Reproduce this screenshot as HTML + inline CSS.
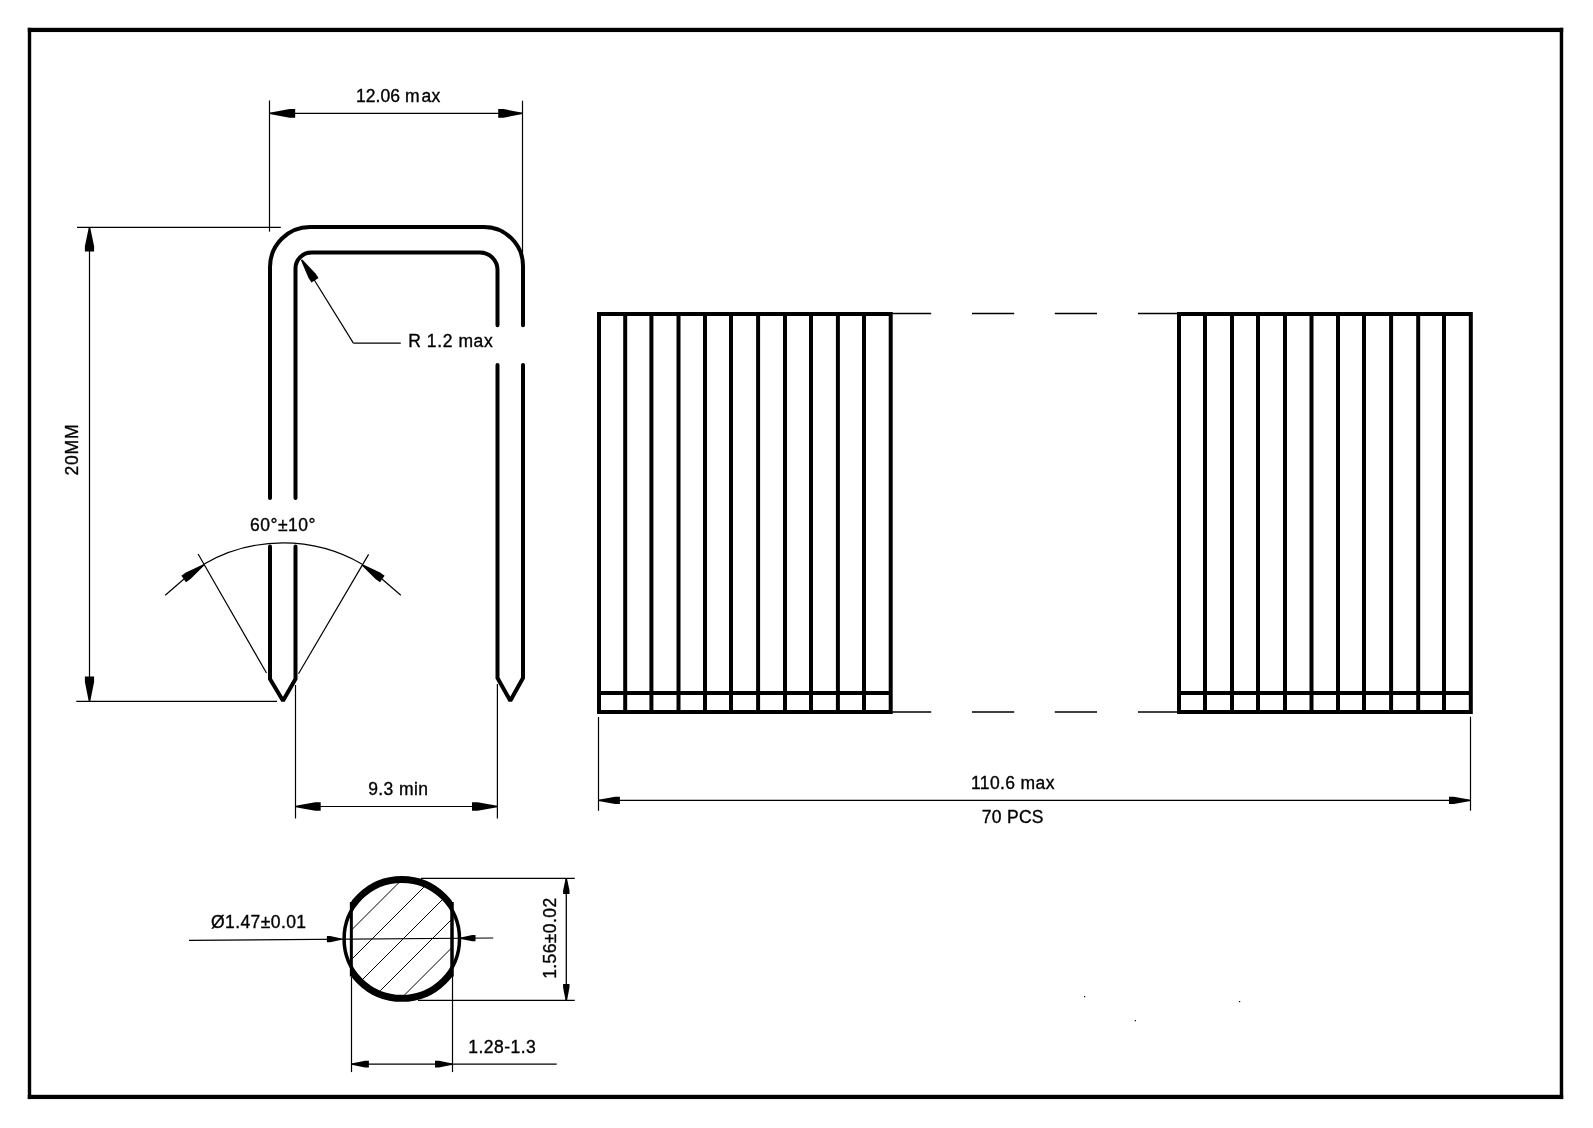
<!DOCTYPE html>
<html><head><meta charset="utf-8"><title>Staple drawing</title>
<style>
html,body{margin:0;padding:0;background:#fff;width:1593px;height:1128px;overflow:hidden;}
svg{display:block;will-change:transform;}
text{font-family:"Liberation Sans",sans-serif;fill:#000;stroke:#000;stroke-width:0.35px;}
</style></head><body>
<svg width="1593" height="1128" viewBox="0 0 1593 1128"><g fill="#000"><rect x="27.8" y="27.8" width="1535.4" height="4.26"/><rect x="27.8" y="1094.8" width="1535.4" height="4.26"/><rect x="27.8" y="27.8" width="3.4" height="1071.26"/><rect x="1559.75" y="27.8" width="3.45" height="1071.26"/></g><g fill="none" stroke="#000" stroke-width="4.0" stroke-linecap="round" stroke-linejoin="round"><path d="M270,498 L270,267 A40,40 0 0 1 310,227 L484,227 A39,39 0 0 1 523,266 L523,325.3"/><path d="M295.5,498 L295.5,269 A16,16 0 0 1 311.5,252.5 L480,252.5 A17.5,17.5 0 0 1 497.5,270 L497.5,325.3"/><path d="M270,546.5 L270,679 L283,700.8 L295.5,679 L295.5,546.5" stroke-linejoin="miter" stroke-miterlimit="1.5"/><path d="M497.5,365 L497.5,678 L510.3,700.8 L523,678 L523,365" stroke-linejoin="miter" stroke-miterlimit="1.5"/></g><g fill="none" stroke="#000" stroke-width="4.0"><rect x="599.00" y="314" width="291.70" height="398" stroke-linejoin="miter"/><line x1="625.20" y1="314" x2="625.20" y2="712"/><line x1="651.40" y1="314" x2="651.40" y2="712"/><line x1="678.50" y1="314" x2="678.50" y2="712"/><line x1="705.00" y1="314" x2="705.00" y2="712"/><line x1="731.00" y1="314" x2="731.00" y2="712"/><line x1="758.10" y1="314" x2="758.10" y2="712"/><line x1="785.00" y1="314" x2="785.00" y2="712"/><line x1="811.00" y1="314" x2="811.00" y2="712"/><line x1="837.90" y1="314" x2="837.90" y2="712"/><line x1="864.00" y1="314" x2="864.00" y2="712"/><line x1="599.00" y1="693" x2="890.70" y2="693"/><rect x="1179.00" y="314" width="291.80" height="398" stroke-linejoin="miter"/><line x1="1205.00" y1="314" x2="1205.00" y2="712"/><line x1="1232.00" y1="314" x2="1232.00" y2="712"/><line x1="1258.00" y1="314" x2="1258.00" y2="712"/><line x1="1285.00" y1="314" x2="1285.00" y2="712"/><line x1="1311.50" y1="314" x2="1311.50" y2="712"/><line x1="1338.00" y1="314" x2="1338.00" y2="712"/><line x1="1364.00" y1="314" x2="1364.00" y2="712"/><line x1="1391.10" y1="314" x2="1391.10" y2="712"/><line x1="1418.20" y1="314" x2="1418.20" y2="712"/><line x1="1444.00" y1="314" x2="1444.00" y2="712"/><line x1="1179.00" y1="693" x2="1470.80" y2="693"/></g><g stroke="#000" fill="none"><line x1="892.00" y1="313.50" x2="931.20" y2="313.50" stroke-width="1.30"/><line x1="892.00" y1="712.00" x2="931.20" y2="712.00" stroke-width="1.30"/><line x1="972.00" y1="313.50" x2="1014.20" y2="313.50" stroke-width="1.30"/><line x1="972.00" y1="712.00" x2="1014.20" y2="712.00" stroke-width="1.30"/><line x1="1054.80" y1="313.50" x2="1097.00" y2="313.50" stroke-width="1.30"/><line x1="1054.80" y1="712.00" x2="1097.00" y2="712.00" stroke-width="1.30"/><line x1="1138.00" y1="313.50" x2="1178.30" y2="313.50" stroke-width="1.30"/><line x1="1138.00" y1="712.00" x2="1178.30" y2="712.00" stroke-width="1.30"/><line x1="269.50" y1="100.50" x2="269.50" y2="231.60" stroke-width="1.20"/><line x1="522.50" y1="100.70" x2="522.50" y2="262.00" stroke-width="1.20"/><line x1="269.50" y1="113.40" x2="522.50" y2="113.40" stroke-width="1.20"/><line x1="77.00" y1="227.30" x2="280.80" y2="227.30" stroke-width="1.20"/><line x1="76.30" y1="701.40" x2="277.00" y2="701.40" stroke-width="1.20"/><line x1="89.50" y1="227.50" x2="89.50" y2="701.40" stroke-width="1.20"/><line x1="295.50" y1="685.00" x2="295.50" y2="818.50" stroke-width="1.20"/><line x1="497.40" y1="684.00" x2="497.40" y2="818.50" stroke-width="1.20"/><line x1="295.60" y1="806.50" x2="497.30" y2="806.50" stroke-width="1.20"/><line x1="598.50" y1="717.00" x2="598.50" y2="810.80" stroke-width="1.20"/><line x1="1470.50" y1="716.70" x2="1470.50" y2="810.60" stroke-width="1.20"/><line x1="598.40" y1="800.40" x2="1470.50" y2="800.40" stroke-width="1.20"/><line x1="353.40" y1="343.10" x2="400.80" y2="343.10" stroke-width="1.20"/><line x1="353.40" y1="343.10" x2="305.00" y2="265.00" stroke-width="1.20"/><line x1="266.50" y1="673.00" x2="198.10" y2="554.00" stroke-width="1.20"/><line x1="298.50" y1="673.70" x2="368.60" y2="554.40" stroke-width="1.20"/><path d="M204.19,563.94 A158.10,158.10 0 0 1 361.81,563.94" stroke-width="1.2"/><polyline points="165.2,595.2 184,579" stroke-width="1.2"/><polyline points="400.8,595.2 382,579" stroke-width="1.2"/><line x1="189.00" y1="940.30" x2="493.20" y2="938.00" stroke-width="1.20"/><line x1="421.00" y1="878.40" x2="574.80" y2="878.40" stroke-width="1.20"/><line x1="418.00" y1="1000.30" x2="574.80" y2="1000.30" stroke-width="1.20"/><line x1="566.30" y1="878.40" x2="566.30" y2="1000.40" stroke-width="1.30"/><line x1="351.50" y1="977.00" x2="351.50" y2="1072.10" stroke-width="1.20"/><line x1="452.50" y1="975.00" x2="452.50" y2="1072.10" stroke-width="1.20"/><line x1="351.50" y1="1064.10" x2="556.70" y2="1064.10" stroke-width="1.20"/></g><g fill="#000" stroke="none"><polygon points="269.50,112.70 289.55,109.10 295.20,109.10 295.20,117.70 289.55,117.70 269.50,114.10"/><polygon points="522.50,114.10 503.55,117.70 498.20,117.70 498.20,109.10 503.55,109.10 522.50,112.70"/><polygon points="90.20,227.50 94.10,246.14 94.10,251.40 84.90,251.40 84.90,246.14 88.80,227.50"/><polygon points="88.80,701.40 84.90,681.90 84.90,676.40 94.10,676.40 94.10,681.90 90.20,701.40"/><polygon points="295.60,805.80 315.18,802.20 320.70,802.20 320.70,810.80 315.18,810.80 295.60,807.20"/><polygon points="497.30,807.20 477.57,810.80 472.00,810.80 472.00,802.20 477.57,802.20 497.30,805.80"/><polygon points="598.40,799.70 615.17,796.80 619.90,796.80 619.90,804.00 615.17,804.00 598.40,801.10"/><polygon points="1470.50,801.10 1453.73,804.00 1449.00,804.00 1449.00,796.80 1453.73,796.80 1470.50,799.70"/><polygon points="302.09,259.37 315.54,273.47 318.51,277.99 311.49,282.61 308.52,278.09 300.91,260.13"/><polygon points="204.70,565.07 190.53,579.08 186.00,582.27 181.40,575.73 185.93,572.54 203.90,563.93"/><polygon points="362.10,563.93 380.07,572.54 384.60,575.73 380.00,582.27 375.47,579.08 361.30,565.07"/><polygon points="341.60,939.80 330.16,942.28 326.92,942.30 326.88,936.10 330.11,936.08 341.60,938.40"/><polygon points="460.80,937.50 472.24,935.02 475.48,935.00 475.52,941.20 472.29,941.22 460.80,938.90"/><polygon points="567.00,878.40 569.50,890.57 569.50,894.00 563.10,894.00 563.10,890.57 565.60,878.40"/><polygon points="565.60,1000.40 563.10,987.61 563.10,984.00 569.50,984.00 569.50,987.61 567.00,1000.40"/><polygon points="351.50,1063.40 365.07,1060.70 368.90,1060.70 368.90,1067.50 365.07,1067.50 351.50,1064.80"/><polygon points="452.50,1064.80 438.85,1067.50 435.00,1067.50 435.00,1060.70 438.85,1060.70 452.50,1063.40"/></g><defs><clipPath id="flat"><rect x="351.3" y="850" width="100.9" height="180"/></clipPath><clipPath id="inner"><circle cx="401.80" cy="938.90" r="56.2"/></clipPath></defs><circle cx="401.80" cy="938.90" r="57.7" fill="none" stroke="#000" stroke-width="3.5"/><g clip-path="url(#flat)"><circle cx="401.80" cy="938.90" r="60.9" fill="none" stroke="#000" stroke-width="4.1"/></g><line x1="351.35" y1="902" x2="351.35" y2="976.5" stroke="#000" stroke-width="3.0"/><line x1="452" y1="902" x2="452" y2="976.5" stroke="#000" stroke-width="3.5"/><g clip-path="url(#inner)"><g clip-path="url(#flat)" stroke="#000" stroke-width="1.0"><line x1="340.00" y1="941.50" x2="470.00" y2="811.50" stroke-width="1.00"/><line x1="340.00" y1="971.00" x2="470.00" y2="841.00" stroke-width="1.00"/><line x1="340.00" y1="1002.00" x2="470.00" y2="872.00" stroke-width="1.00"/><line x1="340.00" y1="1031.00" x2="470.00" y2="901.00" stroke-width="1.00"/><line x1="340.00" y1="1059.50" x2="470.00" y2="929.50" stroke-width="1.00"/></g></g><g fill="#000"><rect x="1084" y="996" width="1.2" height="1.2"/><rect x="1134.8" y="1020" width="1.2" height="1.2"/><rect x="1239" y="1001" width="1.2" height="1.2"/></g><text x="356.00" y="102.00" font-size="17.50" letter-spacing="0.050">12.06 m<tspan dx="2">ax</tspan></text><text x="408.20" y="346.80" font-size="17.50" letter-spacing="0.587">R 1.2 max</text><text x="250.00" y="531.00" font-size="17.50" letter-spacing="0.500">60°±10°</text><text x="368.20" y="795.10" font-size="17.50" letter-spacing="0.417">9.3 min</text><text x="971.00" y="788.70" font-size="17.50" letter-spacing="0.375">110.6 max</text><text x="981.80" y="822.90" font-size="17.50" letter-spacing="0.280">70 PCS</text><text x="211.00" y="928.00" font-size="17.50" letter-spacing="0.411">Ø1.47±0.01</text><text x="468.20" y="1052.50" font-size="17.50" letter-spacing="0.471">1.28-1.3</text><text x="78.00" y="475.60" font-size="17.50" letter-spacing="0.867" transform="rotate(-90 78.00 475.60)">20MM</text><text x="555.80" y="978.80" font-size="17.50" letter-spacing="0.400" transform="rotate(-90 555.80 978.80)">1.56±0.02</text></svg>
</body></html>
